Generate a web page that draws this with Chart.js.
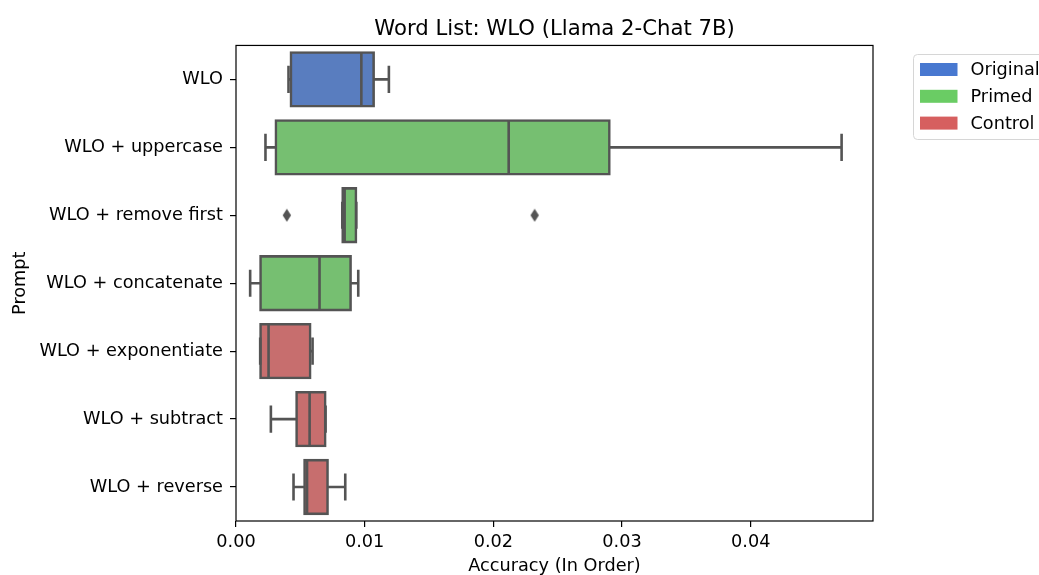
<!DOCTYPE html>
<html>
<head>
<meta charset="utf-8">
<title>Word List: WLO (Llama 2-Chat 7B)</title>
<script src="https://cdn.jsdelivr.net/npm/chart.js@4.4.0/dist/chart.umd.min.js"></script>
<style>
  html, body { margin: 0; padding: 0; background: #fff; }
  #wrap { width: 1039px; height: 575px; position: relative; }
</style>
</head>
<body>
<div id="wrap"><canvas id="chart"></canvas></div>
<script>
/* ========= DATA ========= */
const prompts = [
  "WLO",
  "WLO + uppercase",
  "WLO + remove first",
  "WLO + concatenate",
  "WLO + exponentiate",
  "WLO + subtract",
  "WLO + reverse"
];
const promptGroup = ["Original", "Primed", "Primed", "Primed", "Control", "Control", "Control"];
const groups = ["Original", "Primed", "Control"];

const lowWhisker  = [0.00408, 0.00229, 0.00826, 0.00110, 0.00188, 0.00271, 0.00447];
const q1          = [0.00424, 0.00307, 0.00826, 0.00188, 0.00188, 0.00468, 0.00530];
const medians     = [0.00974, 0.02119, 0.00844, 0.00649, 0.00253, 0.00572, 0.00552];
const q3          = [0.01072, 0.02904, 0.00935, 0.00893, 0.00579, 0.00696, 0.00714];
const highWhisker = [0.01188, 0.04706, 0.00935, 0.00950, 0.00595, 0.00696, 0.00849];

const outlierPrompts = ["WLO + remove first", "WLO + remove first"];
const outlierValues  = [0.00395, 0.02321];

const xTicks = [0, 0.01, 0.02, 0.03, 0.04];

/* ========= STYLE ========= */
const boxFill = { Original: "#597dbf", Primed: "#76bf71", Control: "#c76e6e" };
const legendFill = { Original: "#4878d0", Primed: "#6acc64", Control: "#d65f5f" };
const gray = "#545454";
const FONT = "'DejaVu Sans', sans-serif";
const TICK_PX = 17.7;
const LW = 2.6;

// thin diamond marker for fliers
const diamond = document.createElement("canvas");
diamond.width = 10; diamond.height = 14;
(() => {
  const c = diamond.getContext("2d");
  c.fillStyle = gray;
  c.beginPath();
  c.moveTo(5, 0.5); c.lineTo(9.2, 7); c.lineTo(5, 13.5); c.lineTo(0.8, 7);
  c.closePath();
  c.fill();
})();

/* ========= PLUGINS ========= */
const whiskers = {
  id: "whiskers",
  afterDatasetsDraw(chart) {
    const { ctx, scales: { x, y } } = chart;
    const band = Math.abs(y.getPixelForValue(1) - y.getPixelForValue(0));
    const half = band * 0.4;
    const cap = band * 0.2;
    ctx.save();
    ctx.strokeStyle = gray;
    ctx.lineWidth = LW;
    ctx.lineCap = "butt";
    prompts.forEach((p, i) => {
      const cy = y.getPixelForValue(i);
      const xl = x.getPixelForValue(lowWhisker[i]);
      const xq1 = x.getPixelForValue(q1[i]);
      const xq3 = x.getPixelForValue(q3[i]);
      const xh = x.getPixelForValue(highWhisker[i]);
      const xm = x.getPixelForValue(medians[i]);
      ctx.beginPath();
      ctx.moveTo(xq1, cy); ctx.lineTo(xl, cy);
      ctx.moveTo(xl, cy - cap); ctx.lineTo(xl, cy + cap);
      ctx.moveTo(xq3, cy); ctx.lineTo(xh, cy);
      ctx.moveTo(xh, cy - cap); ctx.lineTo(xh, cy + cap);
      ctx.moveTo(xm, cy - half); ctx.lineTo(xm, cy + half);
      ctx.stroke();
    });
    ctx.restore();
  }
};

const frameAndLegend = {
  id: "frameAndLegend",
  afterDraw(chart) {
    const { ctx, chartArea: a } = chart;
    ctx.save();
    ctx.strokeStyle = "#000";
    ctx.lineWidth = 1.2;
    ctx.strokeRect(a.left, a.top, a.right - a.left, a.bottom - a.top);

    // legend
    ctx.fillStyle = "rgba(255,255,255,0.8)";
    ctx.strokeStyle = "#d6d6d6";
    ctx.lineWidth = 1;
    ctx.beginPath();
    ctx.roundRect(913.5, 54.5, 200, 85, 4);
    ctx.fill();
    ctx.stroke();
    ctx.font = TICK_PX + "px " + FONT;
    ctx.textBaseline = "middle";
    ctx.textAlign = "left";
    groups.forEach((g, i) => {
      const cy = 69.5 + i * 26.8;
      ctx.fillStyle = legendFill[g];
      ctx.fillRect(920, cy - 6.5, 37.5, 13);
      ctx.fillStyle = "#000";
      ctx.fillText(g, 970.5, cy + 1);
    });
    ctx.restore();
  }
};

/* ========= CHART ========= */
const datasets = groups.map(g => ({
  label: g,
  data: prompts.map((p, i) => promptGroup[i] === g ? [q1[i], q3[i]] : null),
  backgroundColor: boxFill[g],
  borderColor: gray,
  borderWidth: LW,
  borderSkipped: false,
  inflateAmount: 1,
  grouped: false,
  barPercentage: 1,
  categoryPercentage: 0.8
}));

datasets.push({
  type: "scatter",
  label: "fliers",
  indexAxis: "y",
  data: outlierValues.map((v, i) => ({ x: v, y: outlierPrompts[i] })),
  pointStyle: diamond,
  pointRadius: 5,
  pointHoverRadius: 5
});

new Chart(document.getElementById("chart"), {
  type: "bar",
  data: { labels: prompts, datasets },
  options: {
    indexAxis: "y",
    responsive: true,
    maintainAspectRatio: false,
    animation: false,
    layout: { padding: { top: 0, right: 166, bottom: 0, left: 0 } },
    plugins: {
      legend: { display: false },
      tooltip: { enabled: false },
      title: {
        display: true,
        text: "Word List: WLO (Llama 2-Chat 7B)",
        fullSize: false,
        color: "#000",
        font: { family: FONT, size: 21.2, weight: "normal", lineHeight: 1.2 },
        padding: { top: 16.5, bottom: 3.5 }
      }
    },
    scales: {
      x: {
        type: "linear",
        min: 0,
        max: 0.0495,
        afterFit: s => { s.height = 54; },
        afterBuildTicks: s => { s.ticks = xTicks.map(v => ({ value: v })); },
        ticks: {
          color: "#000",
          padding: 5,
          font: { family: FONT, size: TICK_PX },
          callback: v => Number(v).toFixed(2),
          maxRotation: 0
        },
        grid: { drawOnChartArea: false, drawTicks: true, tickLength: 6, color: "#000", lineWidth: 1.2 },
        border: { display: false },
        title: {
          display: true,
          text: "Accuracy (In Order)",
          color: "#000",
          font: { family: FONT, size: TICK_PX, lineHeight: 1 },
          padding: { top: 0, bottom: 0 }
        }
      },
      y: {
        type: "category",
        afterFit: s => { s.width = 236; },
        ticks: {
          color: "#000",
          padding: 7,
          autoSkip: false,
          font: { family: FONT, size: TICK_PX }
        },
        grid: { drawOnChartArea: false, drawTicks: true, tickLength: 6, color: "#000", lineWidth: 1.2, offset: false },
        border: { display: false },
        title: {
          display: true,
          text: "Prompt",
          color: "#000",
          font: { family: FONT, size: TICK_PX },
          padding: { top: 10, bottom: 0 }
        }
      }
    }
  },
  plugins: [whiskers, frameAndLegend]
});
</script>
</body>
</html>
